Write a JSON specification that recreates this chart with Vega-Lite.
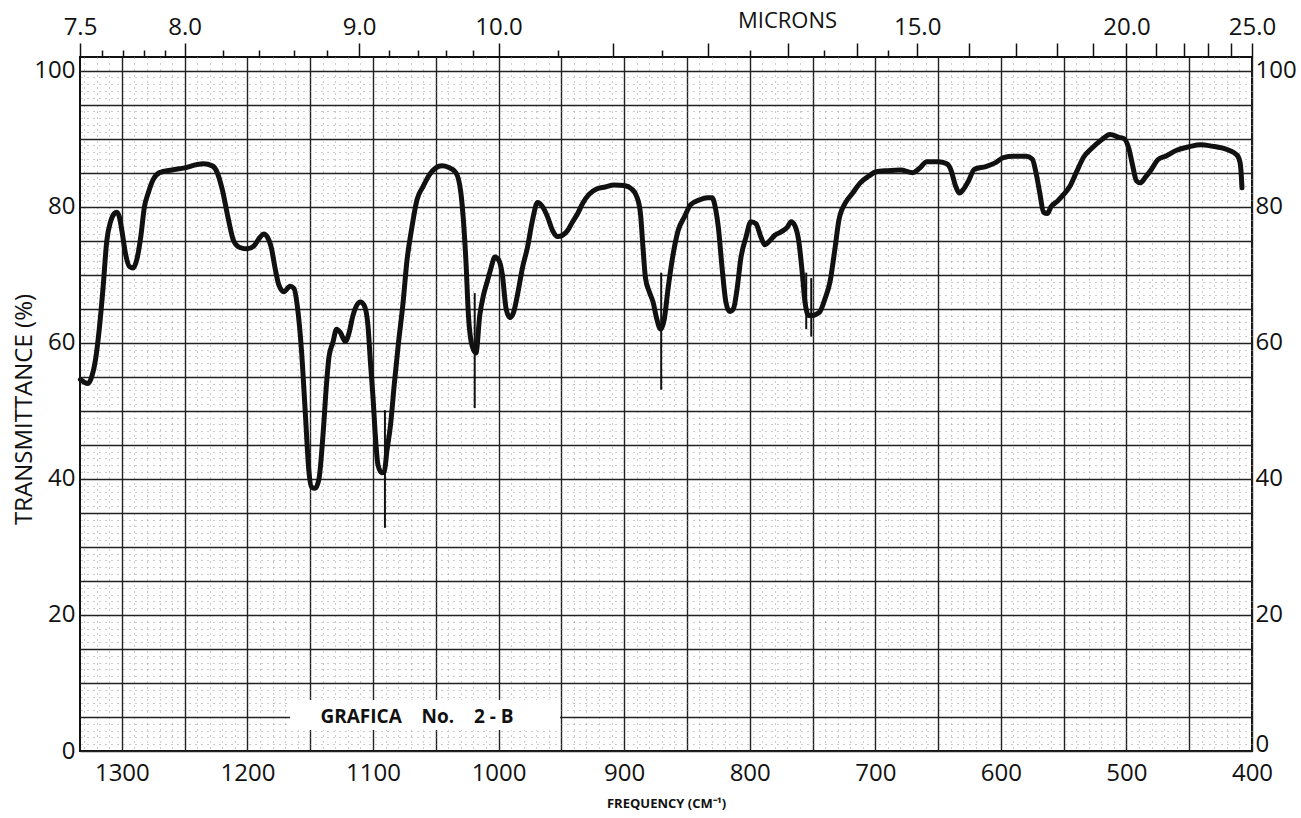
{
  "$schema": "https://vega.github.io/schema/vega-lite/v6.json",
  "width": 1172,
  "height": 694,
  "autosize": {"type": "none"},
  "padding": {"left": 80, "top": 57, "right": 49, "bottom": 67},
  "background": "white",
  "config": {
    "view": {"stroke": "#111", "strokeWidth": 2},
    "font": "Open Sans",
    "axis": {"labelFont": "Open Sans", "titleFont": "Open Sans", "labelColor": "#111", "titleColor": "#111"}
  },
  "datasets": {
    "curve": [
      {"w":1333,"t":54.6},{"w":1330,"t":54.2},{"w":1327,"t":54.0},{"w":1324,"t":55.0},{"w":1321,"t":57.5},{"w":1318,"t":62},{"w":1315,"t":68},{"w":1312,"t":75},{"w":1309,"t":77.8},{"w":1306,"t":79.0},{"w":1304,"t":79.2},{"w":1302,"t":78.5},{"w":1300,"t":76.5},{"w":1297,"t":73},{"w":1294,"t":71.2},{"w":1291,"t":71.0},{"w":1288,"t":72.3},{"w":1285,"t":75.5},{"w":1282,"t":80},{"w":1279,"t":82},{"w":1275,"t":84},{"w":1270,"t":85},{"w":1260,"t":85.4},{"w":1250,"t":85.7},{"w":1240,"t":86.2},{"w":1235,"t":86.3},{"w":1228,"t":86.0},{"w":1224,"t":85},{"w":1220,"t":82.5},{"w":1215,"t":78},{"w":1211,"t":75},{"w":1206,"t":74},{"w":1200,"t":73.8},{"w":1195,"t":74.2},{"w":1190,"t":75.5},{"w":1187,"t":76},{"w":1184,"t":75.5},{"w":1181,"t":74},{"w":1178,"t":71},{"w":1175,"t":68.5},{"w":1171,"t":67.5},{"w":1166,"t":68.3},{"w":1163,"t":68},{"w":1160,"t":65},{"w":1157,"t":59},{"w":1154,"t":50},{"w":1151,"t":41},{"w":1149,"t":38.8},{"w":1146,"t":38.6},{"w":1143,"t":40},{"w":1140,"t":46},{"w":1137,"t":54},{"w":1135,"t":58},{"w":1132,"t":60},{"w":1129,"t":62},{"w":1126,"t":61.5},{"w":1122,"t":60.2},{"w":1119,"t":61.5},{"w":1116,"t":64},{"w":1113,"t":65.5},{"w":1110,"t":66},{"w":1107,"t":65.5},{"w":1104,"t":62.5},{"w":1102,"t":57},{"w":1100,"t":52},{"w":1098,"t":46},{"w":1096,"t":42},{"w":1093,"t":40.9},{"w":1091,"t":41},{"w":1089,"t":44},{"w":1086,"t":48},{"w":1083,"t":54},{"w":1080,"t":59.5},{"w":1076,"t":66},{"w":1073,"t":72},{"w":1069,"t":77},{"w":1065,"t":81},{"w":1060,"t":83},{"w":1055,"t":84.7},{"w":1050,"t":85.7},{"w":1045,"t":86},{"w":1040,"t":85.8},{"w":1034,"t":85},{"w":1030,"t":82},{"w":1028,"t":78},{"w":1026,"t":72},{"w":1024,"t":64},{"w":1021,"t":59.5},{"w":1018,"t":58.5},{"w":1015,"t":64},{"w":1012,"t":67},{"w":1009,"t":69},{"w":1006,"t":71},{"w":1003,"t":72.6},{"w":1000,"t":72.2},{"w":997,"t":70},{"w":994,"t":65},{"w":991,"t":63.7},{"w":988,"t":64.5},{"w":985,"t":67},{"w":981,"t":71},{"w":977,"t":74},{"w":973,"t":78},{"w":969,"t":80.6},{"w":965,"t":80},{"w":961,"t":78.5},{"w":957,"t":76.5},{"w":953,"t":75.6},{"w":949,"t":75.8},{"w":945,"t":76.5},{"w":941,"t":77.8},{"w":937,"t":79},{"w":933,"t":80.5},{"w":928,"t":81.8},{"w":922,"t":82.6},{"w":915,"t":82.9},{"w":908,"t":83.2},{"w":900,"t":83.1},{"w":894,"t":82.6},{"w":890,"t":81.5},{"w":887,"t":79},{"w":885,"t":74},{"w":883,"t":69.5},{"w":880,"t":67.5},{"w":877,"t":66},{"w":874,"t":63.5},{"w":871,"t":62},{"w":868,"t":63.5},{"w":865,"t":68},{"w":861,"t":73},{"w":857,"t":76.5},{"w":852,"t":78.5},{"w":847,"t":80.3},{"w":840,"t":81},{"w":834,"t":81.3},{"w":830,"t":81.3},{"w":827,"t":79.5},{"w":825,"t":77},{"w":822,"t":71},{"w":819,"t":66},{"w":816,"t":64.6},{"w":813,"t":65},{"w":810,"t":68},{"w":807,"t":72.5},{"w":803,"t":75.5},{"w":799,"t":77.8},{"w":795,"t":77.5},{"w":791,"t":75.5},{"w":788,"t":74.4},{"w":784,"t":75},{"w":780,"t":75.8},{"w":775,"t":76.3},{"w":770,"t":77},{"w":767,"t":77.8},{"w":764,"t":77.2},{"w":761,"t":75},{"w":758,"t":70},{"w":756,"t":66},{"w":753,"t":64},{"w":750,"t":64},{"w":747,"t":64.2},{"w":744,"t":64.6},{"w":740,"t":66.5},{"w":736,"t":69},{"w":732,"t":74},{"w":729,"t":78},{"w":724,"t":80.5},{"w":718,"t":82},{"w":712,"t":83.5},{"w":705,"t":84.5},{"w":700,"t":85.1},{"w":690,"t":85.3},{"w":680,"t":85.4},{"w":670,"t":85},{"w":665,"t":85.6},{"w":659,"t":86.6},{"w":650,"t":86.6},{"w":643,"t":86.3},{"w":640,"t":85.5},{"w":636,"t":83},{"w":633,"t":82},{"w":630,"t":82.5},{"w":626,"t":83.7},{"w":621,"t":85.5},{"w":612,"t":85.9},{"w":605,"t":86.4},{"w":598,"t":87.2},{"w":590,"t":87.4},{"w":580,"t":87.4},{"w":575,"t":87},{"w":572,"t":85},{"w":569,"t":82},{"w":566,"t":79.2},{"w":563,"t":79},{"w":560,"t":80},{"w":555,"t":80.8},{"w":550,"t":81.8},{"w":545,"t":83},{"w":540,"t":85},{"w":534,"t":87.3},{"w":528,"t":88.5},{"w":520,"t":89.8},{"w":513,"t":90.6},{"w":506,"t":90.2},{"w":502,"t":90},{"w":498,"t":88.5},{"w":495,"t":86},{"w":492,"t":83.8},{"w":489,"t":83.5},{"w":485,"t":84.3},{"w":480,"t":85.5},{"w":475,"t":86.9},{"w":468,"t":87.5},{"w":460,"t":88.3},{"w":450,"t":88.8},{"w":441,"t":89.1},{"w":432,"t":88.9},{"w":420,"t":88.4},{"w":412,"t":87.6},{"w":409.5,"t":86.5},{"w":408.5,"t":84.5},{"w":408,"t":82.8}
    ],
    "spikes": [
      {"w":1090.5,"lo":32.8,"hi":50.1},
      {"w":1019,"lo":50.4,"hi":67.3},
      {"w":870.5,"lo":53.1,"hi":70.3},
      {"w":755,"lo":62,"hi":70.3},
      {"w":751,"lo":60.9,"hi":69.5}
    ],
    "box": [
      {"x1":1166,"x2":951,"y1":3.1,"y2":7.5,"x":1065,"y":5.0,"label":"GRAFICA\u00a0\u00a0\u00a0 No.\u00a0\u00a0\u00a0 2 - B"}
    ]
  },
  "layer": [
    {
      "data": {"name": "box"},
      "mark": {"type": "rect", "fill": "white", "stroke": null},
      "encoding": {
        "x": {"field": "x1", "type": "quantitative", "axis": null, "scale": {"domain": [400, 1333.334], "reverse": true, "nice": false, "zero": false}},
        "x2": {"field": "x2"},
        "y": {"field": "y1", "type": "quantitative", "axis": null, "scale": {"domain": [0, 102], "nice": false, "zero": false}},
        "y2": {"field": "y2"}
      }
    },
    {
      "data": {"name": "box"},
      "mark": {"type": "text", "font": "Open Sans", "fontSize": 19, "fontWeight": "bold", "color": "#111", "align": "center", "baseline": "middle"},
      "encoding": {
        "x": {"field": "x", "type": "quantitative", "axis": null},
        "y": {"field": "y", "type": "quantitative", "axis": null},
        "text": {"field": "label"}
      }
    },
    {
      "data": {"name": "curve"},
      "mark": {"type": "line", "color": "#111", "strokeWidth": 5, "strokeJoin": "round", "strokeCap": "round", "interpolate": "monotone"},
      "encoding": {
        "x": {
          "field": "w", "type": "quantitative",
          "axis": {
            "orient": "bottom",
            "values": [400,410,420,430,440,450,460,470,480,490,500,510,520,530,540,550,560,570,580,590,600,610,620,630,640,650,660,670,680,690,700,710,720,730,740,750,760,770,780,790,800,810,820,830,840,850,860,870,880,890,900,910,920,930,940,950,960,970,980,990,1000,1010,1020,1030,1040,1050,1060,1070,1080,1090,1100,1110,1120,1130,1140,1150,1160,1170,1180,1190,1200,1210,1220,1230,1240,1250,1260,1270,1280,1290,1300,1310,1320,1330],
            "grid": true, "ticks": false, "domain": false,
            "labelExpr": "datum.value % 100 === 0 ? format(datum.value, 'd') : ''",
            "labelFontSize": 24, "labelPadding": 10, "labelFlush": false, "labelOverlap": false,
            "gridColor": {"condition": {"test": "datum.value % 50 === 0", "value": "#222"}, "value": "#999"},
            "gridDash": {"condition": {"test": "datum.value % 50 === 0", "value": []}, "value": [1, 5]},
            "gridWidth": {"condition": {"test": "datum.value % 50 === 0", "value": 1.4}, "value": 1},
            "title": "FREQUENCY (CM⁻¹)", "titleFontSize": 13, "titleFontWeight": "bold", "titlePadding": 12
          }
        },
        "y": {
          "field": "t", "type": "quantitative",
          "axis": {
            "orient": "left",
            "values": [0,1,2,3,4,5,6,7,8,9,10,11,12,13,14,15,16,17,18,19,20,21,22,23,24,25,26,27,28,29,30,31,32,33,34,35,36,37,38,39,40,41,42,43,44,45,46,47,48,49,50,51,52,53,54,55,56,57,58,59,60,61,62,63,64,65,66,67,68,69,70,71,72,73,74,75,76,77,78,79,80,81,82,83,84,85,86,87,88,89,90,91,92,93,94,95,96,97,98,99,100],
            "grid": true, "ticks": false, "domain": false,
            "labelExpr": "datum.value % 20 === 0 ? format(datum.value, 'd') : ''",
            "labelFontSize": 24, "labelPadding": 5, "labelOverlap": false, "labelFlush": false,
            "gridColor": {"condition": {"test": "datum.value % 5 === 0", "value": "#222"}, "value": "#999"},
            "gridDash": {"condition": {"test": "datum.value % 5 === 0", "value": []}, "value": [1, 5]},
            "gridWidth": {"condition": {"test": "datum.value % 5 === 0", "value": 1.4}, "value": 1},
            "title": "TRANSMITTANCE (%)", "titleFontSize": 24, "titleFontWeight": "normal",
            "titleX": -56, "titleY": 352, "titleAlign": "center", "titleBaseline": "middle", "titleAngle": -90
          }
        }
      }
    },
    {
      "data": {"name": "spikes"},
      "mark": {"type": "rule", "color": "#111", "strokeWidth": 2},
      "encoding": {
        "x": {
          "field": "w", "type": "quantitative",
          "axis": {
            "orient": "top",
            "values": [1333.333,1315.789,1298.701,1282.051,1265.823,1250,1219.512,1190.476,1162.791,1136.364,1111.111,1086.957,1063.83,1041.667,1020.408,1000,952.381,909.091,869.565,833.333,800,769.231,740.741,714.286,689.655,666.667,625,588.235,555.556,526.316,500,476.19,454.545,434.783,416.667,400],
            "grid": false, "domain": false, "ticks": true, "tickColor": "#111", "tickWidth": 1.5,
            "tickSize": {"condition": {"test": "abs(10000/datum.value - round(10000/datum.value)) < 0.01 || round(100000/datum.value) == 75", "value": 14}, "value": 7},
            "labelExpr": "indexof([75,80,90,100,150,200,250], round(100000/datum.value)) >= 0 ? format(10000/datum.value, '.1f') : ''",
            "labelFontSize": 24, "labelPadding": 4, "labelFlush": false, "labelOverlap": false,
            "title": "MICRONS", "titleFontSize": 22, "titleFontWeight": "normal",
            "titleX": 707, "titleY": -37, "titleAlign": "center", "titleBaseline": "middle"
          }
        },
        "y": {
          "field": "lo", "type": "quantitative",
          "axis": {
            "orient": "right", "values": [0,20,40,60,80,100],
            "grid": false, "ticks": false, "domain": false,
            "labelFontSize": 24, "labelPadding": 3, "format": "d", "title": null,
            "labelOffset": {"condition": {"test": "datum.value === 0", "value": -7}, "value": 0}
          }
        },
        "y2": {"field": "hi"}
      }
    }
  ]
}
